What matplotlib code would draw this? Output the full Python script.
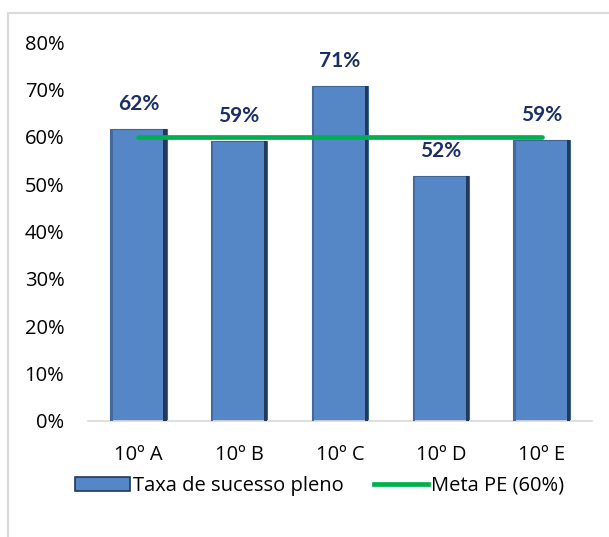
import matplotlib.pyplot as plt
import numpy as np
from matplotlib.patches import Rectangle
from matplotlib.lines import Line2D

# dados
turmas = ["10º A", "10º B", "10º C", "10º D", "10º E"]
taxa = [0.617, 0.591, 0.708, 0.518, 0.593]
meta = [0.60, 0.60, 0.60, 0.60, 0.60]

plt.rcParams['font.family'] = ['Open Sans', 'DejaVu Sans']

fig = plt.figure(figsize=(6.09, 5.37), dpi=100)
ax = fig.add_axes([88/609, 1 - 421/537, (592-88)/609, (421-42)/537])

x = np.arange(len(turmas))
w = 0.56

# barras com um leve efeito de relevo (sombra à direita)
ax.bar(x, taxa, w, color="#5587C6", edgecolor="#3F6594", linewidth=0.8, zorder=2)
ax.bar(x + w/2 - 0.016, taxa, 0.032, color="#22395A", linewidth=0, zorder=3)
ax.bar(x - w/2 + 0.012, taxa, 0.024, color="#45699A", linewidth=0, zorder=3)

ax.plot(x, meta, color="#00B050", linewidth=3.4, solid_capstyle="round", zorder=4)

for xi, v in zip(x, taxa):
    ax.text(xi, v + 0.052, f"{v:.0%}", ha="center", va="center", family=["Lato", "DejaVu Sans"],
            fontsize=15, fontweight="bold", color="#1B2F66", zorder=5)

ax.set_ylim(0, 0.8)
ax.set_xlim(-0.5, len(turmas) - 0.5)
ax.set_yticks(np.arange(0, 0.81, 0.1))
ax.set_yticklabels([f"{int(round(t*100))}%" for t in np.arange(0, 0.81, 0.1)])
ax.set_xticks(x)
ax.set_xticklabels(turmas)
ax.tick_params(length=0, labelsize=14.5, colors="black")
ax.tick_params(axis="y", pad=17)
ax.tick_params(axis="x", pad=17)
for s in ["top", "right", "left"]:
    ax.spines[s].set_visible(False)
ax.spines["bottom"].set_color("#D9D9D9")
ax.spines["bottom"].set_linewidth(1.2)

handles = [Rectangle((0, 0), 1, 1, facecolor="#5587C6", edgecolor="#22395A", linewidth=1.2),
           Line2D([0], [0], color="#00B050", linewidth=3.4)]
fig.legend(handles, ["Taxa de sucesso pleno", "Meta PE (60%)"],
           loc="center", bbox_to_anchor=(0.525, 1 - 486/537), ncol=2, frameon=False,
           fontsize=14.5, handlelength=2.7, handletextpad=0.15, columnspacing=1.5)

# moldura do gráfico
fig.add_artist(Line2D([8/609, 1.0], [1 - 13/537, 1 - 13/537], transform=fig.transFigure,
                      color="#D9D9D9", linewidth=1.5))
fig.add_artist(Line2D([8/609, 8/609], [0, 1 - 13/537], transform=fig.transFigure,
                      color="#D9D9D9", linewidth=1.5))

plt.savefig("out.png", dpi=100)
